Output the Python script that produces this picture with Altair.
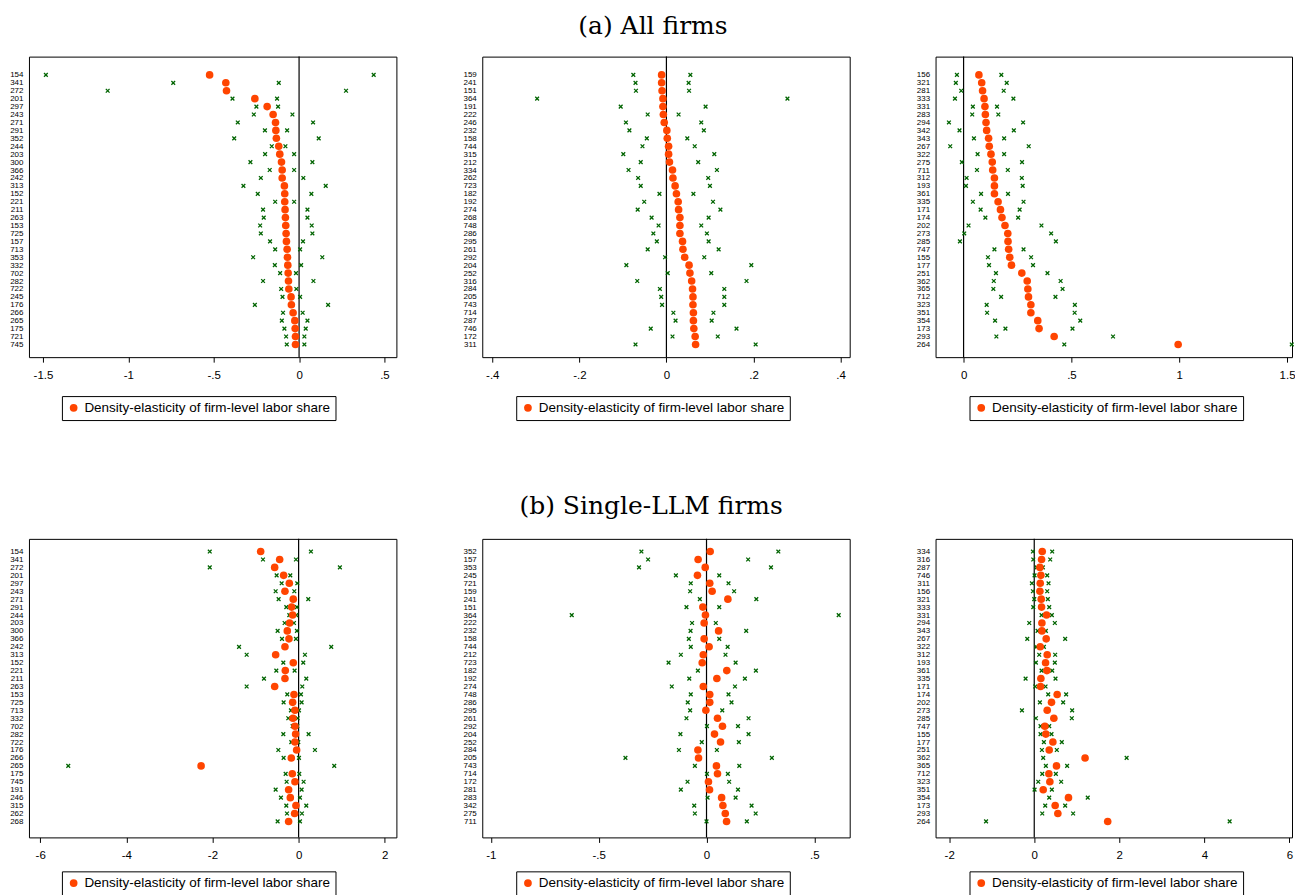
import altair as alt
import pandas as pd

LEGEND_LABEL = "Density-elasticity of firm-level labor share"

# ---------------- (a) All firms ----------------
a1_codes = ["154","341","272","201","297","243","271","291","352","244","203","300","366","242","313","152","221","211","263","153","725","157","713","353","332","702","282","722","245","176","266","265","175","721","745"]
a1_est = [-0.524,-0.429,-0.425,-0.259,-0.187,-0.152,-0.138,-0.136,-0.133,-0.119,-0.113,-0.103,-0.099,-0.099,-0.086,-0.084,-0.084,-0.082,-0.080,-0.078,-0.076,-0.074,-0.070,-0.068,-0.066,-0.064,-0.062,-0.060,-0.047,-0.045,-0.035,-0.025,-0.023,-0.021,-0.021]
a1_lo = [-1.483,-0.737,-1.121,-0.390,-0.250,-0.265,-0.359,-0.200,-0.380,-0.160,-0.199,-0.285,-0.172,-0.224,-0.326,-0.242,-0.140,-0.211,-0.207,-0.228,-0.224,-0.170,-0.140,-0.269,-0.142,-0.111,-0.211,-0.105,-0.097,-0.259,-0.094,-0.101,-0.086,-0.076,-0.072]
a1_hi = [0.437,-0.119,0.275,-0.129,-0.123,-0.039,0.082,-0.070,0.115,-0.080,-0.029,0.078,-0.029,0.025,0.156,0.072,-0.029,0.049,0.049,0.074,0.078,0.023,0.006,0.136,0.012,-0.018,0.084,-0.016,0.006,0.170,0.021,0.049,0.039,0.031,0.031]

a2_codes = ["159","241","151","364","191","222","246","232","158","744","315","212","334","262","723","182","192","274","268","748","286","295","261","292","204","252","316","284","205","743","714","287","746","172","311"]
a2_est = [-0.011,-0.011,-0.010,-0.008,-0.008,-0.007,-0.005,0.001,0.002,0.005,0.005,0.007,0.014,0.015,0.020,0.023,0.027,0.028,0.031,0.031,0.031,0.037,0.038,0.042,0.052,0.054,0.058,0.060,0.061,0.061,0.062,0.062,0.063,0.066,0.067]
a2_lo = [-0.076,-0.071,-0.070,-0.297,-0.105,-0.043,-0.093,-0.085,-0.045,-0.055,-0.099,-0.059,-0.087,-0.065,-0.059,-0.016,-0.051,-0.066,-0.034,-0.018,-0.030,-0.022,-0.043,-0.003,-0.092,0.003,-0.067,-0.015,-0.012,-0.010,0.016,0.021,-0.036,0.014,-0.071]
a2_hi = [0.055,0.051,0.052,0.278,0.090,0.028,0.080,0.086,0.048,0.065,0.110,0.073,0.116,0.096,0.100,0.062,0.107,0.124,0.097,0.080,0.093,0.097,0.120,0.087,0.195,0.103,0.184,0.133,0.133,0.133,0.108,0.104,0.161,0.118,0.205]

a3_codes = ["156","321","281","333","331","283","294","342","343","267","322","275","711","312","193","361","335","171","174","202","273","285","747","155","177","251","362","365","712","323","351","354","173","293","264"]
a3_est = [0.071,0.084,0.088,0.095,0.099,0.101,0.104,0.107,0.116,0.119,0.127,0.133,0.135,0.143,0.143,0.143,0.160,0.171,0.178,0.192,0.205,0.206,0.209,0.214,0.222,0.270,0.295,0.298,0.301,0.312,0.312,0.344,0.350,0.420,0.995]
a3_lo = [-0.031,-0.036,-0.011,-0.040,0.043,0.040,-0.068,-0.019,0.048,-0.062,0.065,-0.008,0.062,0.014,0.011,0.081,0.043,0.079,0.101,0.023,0.003,-0.017,0.143,0.113,0.118,0.150,0.140,0.138,0.174,0.107,0.109,0.146,0.194,0.152,0.467]
a3_hi = [0.175,0.200,0.186,0.231,0.155,0.161,0.276,0.233,0.188,0.302,0.188,0.271,0.205,0.270,0.274,0.206,0.278,0.260,0.253,0.361,0.406,0.428,0.278,0.313,0.322,0.389,0.450,0.459,0.426,0.516,0.515,0.541,0.505,0.693,1.522]

# ---------------- (b) Single-LLM firms ----------------
b1_codes = ["154","341","272","201","297","243","271","291","244","203","300","366","242","313","152","221","211","263","153","725","713","332","702","282","722","176","266","265","175","745","191","246","315","262","268"]
b1_est = [-0.881,-0.440,-0.556,-0.348,-0.216,-0.317,-0.124,-0.162,-0.139,-0.209,-0.263,-0.224,-0.317,-0.533,-0.124,-0.309,-0.317,-0.556,-0.108,-0.139,-0.085,-0.131,-0.085,-0.070,-0.085,-0.046,-0.170,-2.264,-0.147,-0.085,-0.232,-0.193,-0.062,-0.093,-0.232]
b1_lo = [-2.063,-0.827,-2.063,-0.510,-0.394,-0.533,-0.464,-0.286,-0.216,-0.325,-0.487,-0.386,-1.383,-1.206,-0.355,-0.518,-0.804,-1.206,-0.263,-0.348,-0.178,-0.240,-0.139,-0.355,-0.170,-0.471,-0.348,-5.348,-0.301,-0.278,-0.533,-0.410,-0.286,-0.270,-0.487]
b1_hi = [0.286,-0.062,0.958,-0.193,-0.031,-0.100,0.224,-0.039,-0.054,-0.108,-0.039,-0.062,0.757,0.147,0.108,-0.093,0.178,0.085,0.054,0.070,0.008,-0.023,-0.031,0.232,-0.008,0.379,0.008,0.827,0.015,0.116,0.070,0.031,0.178,0.077,0.031]

b2_codes = ["352","157","353","245","721","159","241","151","364","222","232","158","744","212","723","182","192","274","748","286","295","261","292","204","252","284","205","743","714","172","281","283","342","275","711"]
b2_est = [0.017,-0.039,-0.006,-0.042,0.015,0.026,0.099,-0.017,-0.005,-0.011,0.056,-0.011,0.012,-0.015,-0.020,0.094,0.048,-0.015,0.015,0.015,-0.003,0.051,0.074,0.037,0.065,-0.040,-0.037,0.046,0.051,0.009,0.014,0.070,0.076,0.087,0.093]
b2_lo = [-0.302,-0.271,-0.313,-0.142,-0.073,-0.076,-0.031,-0.093,-0.625,-0.067,-0.074,-0.082,-0.073,-0.119,-0.176,-0.040,-0.080,-0.161,-0.073,-0.087,-0.076,-0.093,0.002,-0.121,-0.022,-0.128,-0.376,-0.054,0.002,-0.088,-0.119,0.005,-0.057,-0.054,0.000]
b2_hi = [0.333,0.193,0.299,0.059,0.102,0.128,0.231,0.059,0.613,0.043,0.184,0.059,0.098,0.088,0.135,0.229,0.178,0.132,0.102,0.116,0.073,0.195,0.146,0.195,0.150,0.048,0.303,0.152,0.099,0.105,0.146,0.135,0.209,0.228,0.187]

b3_codes = ["334","316","287","746","311","156","321","333","331","294","343","267","322","312","193","361","335","171","174","202","273","285","747","155","177","251","362","365","712","323","351","354","173","293","264"]
b3_est = [0.188,0.172,0.133,0.156,0.141,0.133,0.164,0.172,0.289,0.180,0.180,0.281,0.141,0.305,0.266,0.297,0.156,0.148,0.539,0.406,0.305,0.461,0.250,0.273,0.438,0.352,1.195,0.523,0.344,0.367,0.211,0.805,0.492,0.555,1.727]
b3_lo = [-0.031,-0.023,0.055,0.008,-0.055,-0.031,0.000,-0.023,0.172,-0.117,0.078,-0.164,0.047,0.117,0.039,0.172,-0.203,0.023,0.328,0.133,-0.289,0.039,0.148,0.148,0.227,0.180,0.211,0.273,0.188,0.094,0.008,0.352,0.258,0.188,-1.133]
b3_hi = [0.422,0.375,0.203,0.305,0.336,0.305,0.320,0.352,0.414,0.484,0.273,0.727,0.227,0.492,0.484,0.422,0.500,0.266,0.750,0.680,0.891,0.883,0.352,0.406,0.648,0.531,2.172,0.773,0.508,0.633,0.414,1.258,0.727,0.914,4.594]

# axis ticks and ranges
a1_ticks = [-1.5, -1, -0.5, 0, 0.5]
a2_ticks = [-0.4, -0.2, 0, 0.2, 0.4]
a3_ticks = [0, 0.5, 1, 1.5]
b1_ticks = [-6, -4, -2, 0, 2]
b2_ticks = [-1, -0.5, 0, 0.5]
b3_ticks = [-2, 0, 2, 4, 6]

a1_range = [-1.582, 0.570]
a2_range = [-0.423, 0.421]
a3_range = [-0.130, 1.523]
b1_range = [-6.26, 2.27]
b2_range = [-1.040, 0.664]
b3_range = [-2.32, 6.06]

# row-index ranges (first row = 0, top of panel)
top_rows = [-2.305, 35.60]
bot_rows = [-1.597, 36.01]

W = 368
W_RIGHT = 357
H_TOP = 301
H_BOT = 299
XSHAPE = "M-1,-1L1,1M-1,1L1,-1"
ORANGE = "#ff4500"
GREEN = "#006400"

LABEL_EXPR = ("datum.value == 0 ? '0' : (abs(datum.value) < 1 ? "
              "(datum.value < 0 ? '-' : '') + substring(toString(abs(datum.value)), 1) : toString(datum.value))")


def panel(codes, est, lo, hi, rng, ticks, rows, w, h, leg_x, leg_y):
    df = pd.DataFrame({"idx": list(range(len(codes))), "code": codes, "est": est, "lo": lo, "hi": hi,
                       "series": LEGEND_LABEL})
    xscale = alt.Scale(domain=rng, nice=False, zero=False)
    xaxis = alt.Axis(values=ticks, title=None, grid=False, domain=False, tickSize=5,
                     tickColor="black", labelColor="black", labelFont="Liberation Sans",
                     labelFontSize=11.5, labelPadding=7, labelExpr=LABEL_EXPR,
                     labelFlush=False, labelOverlap=False)
    code_list = "[" + ",".join("'%s'" % c for c in codes) + "]"
    yenc = alt.Y("idx:Q",
                 scale=alt.Scale(domain=rows, reverse=True, nice=False, zero=False),
                 axis=alt.Axis(title=None, ticks=False, domain=False, grid=False,
                               values=list(range(len(codes))),
                               labelExpr=code_list + "[datum.value]",
                               labelOverlap=False, labelFlush=False,
                               labelFont="Liberation Sans", labelFontSize=8,
                               labelColor="black", labelPadding=6))
    base = alt.Chart(df)
    zero = alt.Chart(pd.DataFrame({"z": [0.0]})).mark_rule(color="black", strokeWidth=1.2).encode(
        x=alt.X("z:Q", scale=xscale, axis=xaxis))
    lo_pts = base.mark_point(shape=XSHAPE, filled=False, size=14, strokeWidth=1.3,
                             color=GREEN, opacity=1).encode(
        x=alt.X("lo:Q", scale=xscale, axis=xaxis), y=yenc)
    hi_pts = base.mark_point(shape=XSHAPE, filled=False, size=14, strokeWidth=1.3,
                             color=GREEN, opacity=1).encode(
        x=alt.X("hi:Q", scale=xscale, axis=xaxis), y=yenc)
    dots = base.mark_circle(size=58, opacity=1).encode(
        x=alt.X("est:Q", scale=xscale, axis=xaxis), y=yenc,
        color=alt.Color("series:N", scale=alt.Scale(range=[ORANGE]),
                        legend=alt.Legend(title=None, orient="none", legendX=leg_x, legendY=leg_y,
                                          strokeColor="black", padding=5, labelFont="Liberation Sans",
                                          labelFontSize=13.5, labelColor="black", labelOffset=4,
                                          symbolType="circle", symbolSize=60, symbolStrokeWidth=0,
                                          labelLimit=400)))
    return alt.layer(zero, lo_pts, hi_pts, dots).properties(width=w, height=h)


def title(txt, off):
    return alt.TitleParams(txt, anchor="middle", font="DejaVu Serif", fontSize=25,
                           fontWeight="normal", color="black", offset=off)


p_a1 = panel(a1_codes, a1_est, a1_lo, a1_hi, a1_range, a1_ticks, top_rows, W, H_TOP, 33, 340)
p_a2 = panel(a2_codes, a2_est, a2_lo, a2_hi, a2_range, a2_ticks, top_rows, W, H_TOP, 34, 340)
p_a3 = panel(a3_codes, a3_est, a3_lo, a3_hi, a3_range, a3_ticks, top_rows, W_RIGHT, H_TOP, 34, 340)
p_b1 = panel(b1_codes, b1_est, b1_lo, b1_hi, b1_range, b1_ticks, bot_rows, W, H_BOT, 33, 333)
p_b2 = panel(b2_codes, b2_est, b2_lo, b2_hi, b2_range, b2_ticks, bot_rows, W, H_BOT, 34, 333)
p_b3 = panel(b3_codes, b3_est, b3_lo, b3_hi, b3_range, b3_ticks, bot_rows, W_RIGHT, H_BOT, 34, 333)

row_a = alt.hconcat(p_a1, p_a2, p_a3, spacing=86, bounds="flush",
                    title=title("(a) All firms", 16.5)
                    ).resolve_scale(color="independent").resolve_legend(color="independent")
row_b = alt.hconcat(p_b1, p_b2, p_b3, spacing=86, bounds="flush",
                    title=title("(b) Single-LLM firms", 18.5)
                    ).resolve_scale(color="independent").resolve_legend(color="independent")

chart = alt.vconcat(row_a, row_b, spacing=73).resolve_scale(color="independent").resolve_legend(
    color="independent").properties(
    padding={"left": 1, "top": 5, "right": -2, "bottom": 0},
    background="white",
).configure_view(stroke="black", strokeWidth=1)

chart.save("out.html", embed_options={"renderer": "svg", "actions": False})
